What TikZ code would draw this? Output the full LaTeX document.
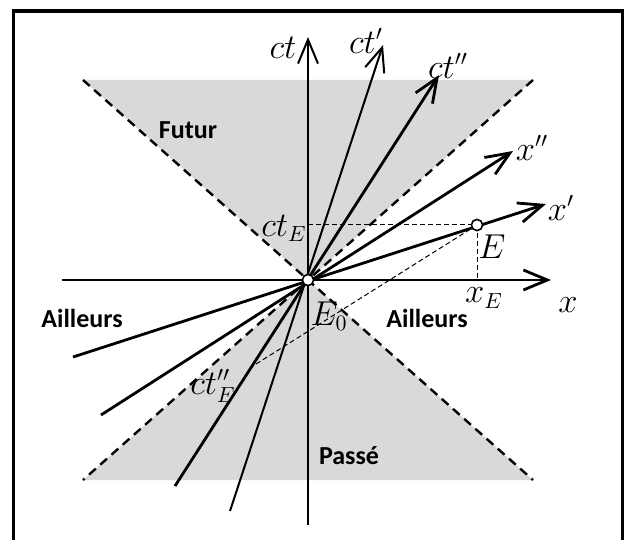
\documentclass[tikz,border=0pt]{standalone}
\usepackage{fontspec}
\setmainfont{Carlito}
\usetikzlibrary{arrows.meta, calc}

\begin{document}
\begin{tikzpicture}[
  x=0.5pt, y=0.5pt,
  font=\fontsize{13}{15}\selectfont,
  axis/.style={line width=1.4pt, -{Straight Barb[length=12pt, width=10pt]}},
  thinaxis/.style={axis, line width=1pt},
  cone/.style={line width=1.2pt, dash pattern=on 4.5pt off 3pt},
  guide/.style={line width=0.5pt, dash pattern=on 2.5pt off 1.5pt},
  zone/.style={font=\fontsize{13}{15}\selectfont\bfseries},
  lbl/.style={font=\fontsize{16}{18}\selectfont, inner sep=1pt},
  event/.style={circle, draw, line width=0.8pt, fill=white, inner sep=0pt,
                minimum size=5.6pt}
]
\useasboundingbox (-308,-259) rectangle (316,280);
\clip (-308,-259) rectangle (316,280);
\draw[line width=1.65pt] (-294.5,-265) rectangle (314.5,269);

% light cone
\fill[black!15] (-225,200) -- (225,200) -- (0,0) -- cycle;
\fill[black!15] (-225,-200) -- (225,-200) -- (0,0) -- cycle;
\draw[cone] (-225,200) -- (225,-200);
\draw[cone] (225,200) -- (-225,-200);

\coordinate (O) at (0,0);
\coordinate (xa) at (-246,0);    \coordinate (xb) at (243,0);
\coordinate (cta) at (0,-245);   \coordinate (ctb) at (0,243);
\coordinate (ct1a) at (-78,-231); \coordinate (ct1b) at (75,235);
\coordinate (ct2a) at (-133,-206); \coordinate (ct2b) at (131,205);
\coordinate (x2a) at (-207,-135); \coordinate (x2b) at (205,129);
\coordinate (x1a) at (-235,-77);  \coordinate (x1b) at (238,76);
\coordinate (E) at (169,55);

% axes
\draw[axis] (xa) -- (xb);
\draw[thinaxis] (cta) -- (ctb);
\draw[thinaxis] (ct1a) -- (ct1b);
\draw[axis] (ct2a) -- (ct2b);
\draw[axis] (x2a) -- (x2b);
\draw[axis] (x1a) -- (x1b);

% projections of E
\coordinate (Ex) at ($(E)+(205,129)$);
\coordinate (ctEpp) at (intersection of E--Ex and O--ct2a);
\draw[guide] (O |- E) -- (E);
\draw[guide] (E) -- (E |- O);
\draw[guide] (E) -- (ctEpp);

\node[event] (E0) at (O) {};
\node[event] (Ept) at (E) {};

% labels
\node[lbl] (lct) at (-25,232) {$ct$};
\node[lbl] (lct1) at (58,239) {$ct'$};
\node[lbl] (lct2) at (140,214) {$ct''$};
\node[lbl] (lx2) at (224,132) {$x''$};
\node[lbl] (lx1) at (253,72) {$x'$};
\node[lbl] (lx) at (260,-25) {$x$};
\node[lbl] (lctE) at (-24,52) {$ct_E$};
\node[lbl] (lE) at (184,33) {$E$};
\node[lbl] (lxE) at (176,-18) {$x_E$};
\node[lbl] (lE0) at (21,-36) {$E_0$};
\node[lbl] (lctEpp) at (-95,-106) {$ct''_E$};
\node[zone] (futur) at (-120,150) {Futur};
\node[zone] (passe) at (41,-176) {Passé};
\node[zone] (ailL) at (-226,-38) {Ailleurs};
\node[zone] (ailR) at (119,-38) {Ailleurs};
\end{tikzpicture}
\end{document}
